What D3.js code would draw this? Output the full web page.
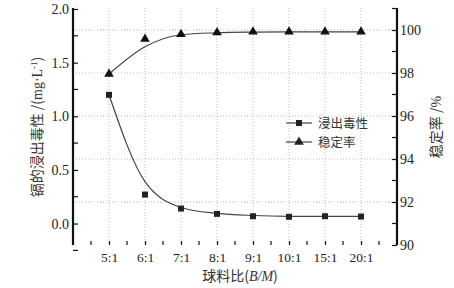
<!DOCTYPE html>
<html>
<head>
<meta charset="utf-8">
<script src="https://d3js.org/d3.v7.min.js"></script>
<style>
body { margin: 0; background: #fff; }
svg { display: block; }
.tick text { font-family: "Liberation Serif", serif; font-size: 14px; fill: #222; }
.cn { font-family: "Noto Sans CJK SC", sans-serif; fill: #333; }
</style>
</head>
<body>
<script>
// ball-to-material ratio categories
var ratios = ["5:1", "6:1", "7:1", "8:1", "9:1", "10:1", "15:1", "20:1"];
// cadmium leaching toxicity (mg/L) - squares, left axis
var toxicity = [1.20, 0.27, 0.14, 0.09, 0.068, 0.063, 0.068, 0.065];
// fitted curve through toxicity
var toxicityFit = [1.20, 0.39, 0.15, 0.095, 0.075, 0.067, 0.066, 0.066];
// stabilisation rate (%) - triangles, right axis
var stability = [97.95, 99.58, 99.8, 99.88, 99.92, 99.92, 99.92, 99.92];
var stabilityFit = [97.95, 99.22, 99.78, 99.87, 99.9, 99.91, 99.91, 99.91];

var leftTicks = [0, 0.5, 1.0, 1.5, 2.0];
var leftMinor = [-0.25, 0.25, 0.75, 1.25, 1.75];
var rightTicks = [90, 92, 94, 96, 98, 100];
var rightMinor = [91, 93, 95, 97, 99, 101];

var width = 454, height = 288;
var x0 = 73, x1 = 397, yTop = 8, yBot = 245;

var svg = d3.select("body").append("svg")
    .attr("width", width)
    .attr("height", height);

var x = d3.scalePoint().domain(ratios).range([x0, x1]).padding(1);
var yL = d3.scaleLinear().domain([-0.2, 2.0]).range([yBot, 9]);
var yR = d3.scaleLinear().domain([90, 101]).range([yBot, yTop + 0.5]);

// grid
svg.selectAll(".vgrid")
    .data(ratios)
    .enter()
    .append("line")
    .attr("x1", function(d){ return x(d); })
    .attr("x2", function(d){ return x(d); })
    .attr("y1", yTop)
    .attr("y2", yBot)
    .attr("stroke", "#bbb")
    .attr("stroke-dasharray", "1,2");

svg.selectAll(".hgrid")
    .data(rightTicks.slice(1))
    .enter()
    .append("line")
    .attr("x1", x0)
    .attr("x2", x1)
    .attr("y1", function(d){ return yR(d); })
    .attr("y2", function(d){ return yR(d); })
    .attr("stroke", "#bbb")
    .attr("stroke-dasharray", "1,2");

// bottom ticks, major at categories, minor half way
var xMinor = [];
for (var i = 0; i <= ratios.length; i++) {
    xMinor.push(x(ratios[0]) - x.step() / 2 + i * x.step());
}
svg.selectAll(".xminor")
    .data(xMinor)
    .enter()
    .append("line")
    .attr("x1", function(d){ return d; })
    .attr("x2", function(d){ return d; })
    .attr("y1", yBot - 4)
    .attr("y2", yBot)
    .attr("stroke", "#111")
    .attr("stroke-width", 1.2);

var xAxis = d3.axisBottom(x).tickSize(-4).tickPadding(7);
svg.append("g")
    .attr("transform", "translate(0," + yBot + ")")
    .call(xAxis)
    .call(function(g){ g.select(".domain").remove(); })
    .call(function(g){ g.selectAll(".tick line").attr("stroke", "#111").attr("stroke-width", 1.2); })
    .call(function(g){ g.selectAll(".tick text").style("font-size", "13.5px"); });

// left axis
var leftAxis = d3.axisLeft(yL).tickValues(leftTicks).tickSize(-5).tickPadding(4)
    .tickFormat(d3.format(".1f"));
svg.append("g")
    .attr("transform", "translate(" + x0 + ",0)")
    .call(leftAxis)
    .call(function(g){ g.select(".domain").remove(); })
    .call(function(g){ g.selectAll(".tick line").attr("stroke", "#111").attr("stroke-width", 1.2); });

svg.selectAll(".lminor")
    .data(leftMinor)
    .enter()
    .append("line")
    .attr("x1", x0)
    .attr("x2", x0 + 5)
    .attr("y1", function(d){ return yL(d); })
    .attr("y2", function(d){ return yL(d); })
    .attr("stroke", "#111")
    .attr("stroke-width", 1.2);

// right axis
var rightAxis = d3.axisRight(yR).tickValues(rightTicks).tickSize(-5).tickPadding(3);
svg.append("g")
    .attr("transform", "translate(" + x1 + ",0)")
    .call(rightAxis)
    .call(function(g){ g.select(".domain").remove(); })
    .call(function(g){ g.selectAll(".tick line").attr("stroke", "#111").attr("stroke-width", 1.2); });

svg.selectAll(".rminor")
    .data(rightMinor)
    .enter()
    .append("line")
    .attr("x1", x1 - 5)
    .attr("x2", x1)
    .attr("y1", function(d){ return yR(d); })
    .attr("y2", function(d){ return yR(d); })
    .attr("stroke", "#111")
    .attr("stroke-width", 1.2);

// axis spines
svg.append("line").attr("x1", x0).attr("x2", x0).attr("y1", yTop).attr("y2", yBot)
    .attr("stroke", "#111").attr("stroke-width", 2.2);
svg.append("line").attr("x1", x1).attr("x2", x1).attr("y1", yTop).attr("y2", yBot)
    .attr("stroke", "#111").attr("stroke-width", 2.2);

// fitted curves
var lineL = d3.line()
    .x(function(d, i){ return x(ratios[i]); })
    .y(function(d){ return yL(d); })
    .curve(d3.curveMonotoneX);
var lineR = d3.line()
    .x(function(d, i){ return x(ratios[i]); })
    .y(function(d){ return yR(d); })
    .curve(d3.curveMonotoneX);

svg.append("path")
    .datum(toxicityFit)
    .attr("d", lineL)
    .attr("fill", "none")
    .attr("stroke", "#444")
    .attr("stroke-width", 1.2);

svg.append("path")
    .datum(stabilityFit)
    .attr("d", lineR)
    .attr("fill", "none")
    .attr("stroke", "#444")
    .attr("stroke-width", 1.2);

// markers
var sq = d3.symbol().type(d3.symbolSquare).size(36);
var tri = d3.symbol().type(d3.symbolTriangle).size(40);

svg.selectAll(".sq")
    .data(toxicity)
    .enter()
    .append("path")
    .attr("d", sq)
    .attr("transform", function(d, i){ return "translate(" + x(ratios[i]) + "," + yL(d) + ")"; })
    .attr("fill", "#222");

svg.selectAll(".tri")
    .data(stability)
    .enter()
    .append("path")
    .attr("d", tri)
    .attr("transform", function(d, i){ return "translate(" + x(ratios[i]) + "," + yR(d) + ")"; })
    .attr("fill", "#111");

// legend
var legend = [
    { name: "浸出毒性", sym: sq, y: 123 },
    { name: "稳定率", sym: tri, y: 142 }
];
legend.forEach(function(l){
    svg.append("line").attr("x1", 286).attr("x2", 312).attr("y1", l.y).attr("y2", l.y)
        .attr("stroke", "#444").attr("stroke-width", 1.2);
    svg.append("path").attr("d", l.sym).attr("transform", "translate(299," + l.y + ")")
        .attr("fill", "#222");
    svg.append("text").attr("class", "cn").attr("x", 318).attr("y", l.y + 4.5)
        .style("font-size", "12.5px").text(l.name);
});

// axis titles
var lt = svg.append("text")
    .attr("class", "cn")
    .attr("text-anchor", "middle")
    .attr("transform", "translate(42,127) rotate(-90)")
    .style("font-size", "14px");
lt.append("tspan").text("镉的浸出毒性 /(");
lt.append("tspan").style("font-family", "Liberation Serif, serif").text("mg·L");
lt.append("tspan").attr("dy", -5).style("font-size", "9px").style("font-family", "Liberation Serif, serif").text("-1");
lt.append("tspan").attr("dy", 5).text(")");

var rt = svg.append("text")
    .attr("class", "cn")
    .attr("text-anchor", "middle")
    .attr("transform", "translate(441,127) rotate(-90)")
    .style("font-size", "14px");
rt.append("tspan").text("稳定率 /");
rt.append("tspan").style("font-family", "Liberation Serif, serif").text("%");

var bt = svg.append("text")
    .attr("class", "cn")
    .attr("text-anchor", "middle")
    .attr("x", 240)
    .attr("y", 281)
    .style("font-size", "14px");
bt.append("tspan").text("球料比(");
bt.append("tspan").style("font-family", "Liberation Serif, serif").style("font-style", "italic").text("B/M");
bt.append("tspan").text(")");
</script>
</body>
</html>
